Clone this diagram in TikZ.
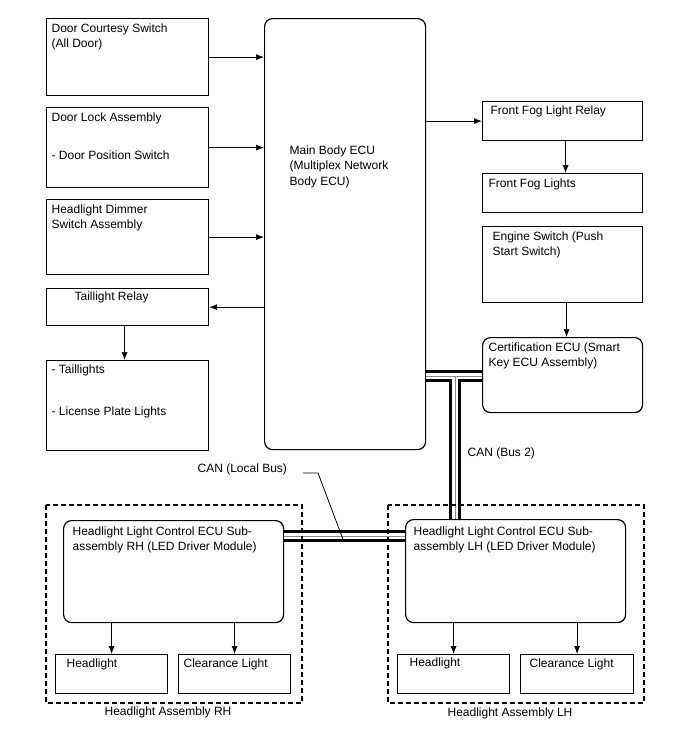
\documentclass[tikz,border=0pt]{standalone}
\usepackage{fontspec}
\setmainfont{Liberation Sans}
\usetikzlibrary{arrows.meta, calc}
\definecolor{cgrey}{HTML}{8A8A8A}
\tikzset{
  every picture/.style={line width=1.2pt},
  box/.style={draw, anchor=north west, inner sep=0pt},
  ecubox/.style={box, rounded corners=8pt},
  txt/.style={anchor=north west, align=left, inner sep=0pt, font=\fontsize{12}{15.5}\selectfont},
  arrow/.style={-{Latex[length=8pt, width=6pt]}, line width=0.7pt},
  zone/.style={draw, dashed, dash pattern=on 5pt off 3pt, line width=1.2pt},
}

\begin{document}
\begin{tikzpicture}[x=1pt, y=-1pt]
  \useasboundingbox (0,0) rectangle (688,755);
  % left column
  \node[box, minimum width=162, minimum height=77] (dcs) at (46,18) {};
  \node[box, minimum width=162, minimum height=80] (dla) at (46,107) {};
  \node[box, minimum width=162, minimum height=75] (hds) at (46,199) {};
  \node[box, minimum width=162, minimum height=37] (tlr) at (46,288) {};
  \node[box, minimum width=162, minimum height=90] (tl) at (46,360) {};
  \node[txt] (dcstxt) at ([shift={(5,5)}]dcs.north west) {Door Courtesy Switch\\(All Door)};
  \node[txt] (dlatxt) at ([shift={(5,5)}]dla.north west) {Door Lock Assembly};
  \node[txt] (dpstxt) at ([shift={(5,43)}]dla.north west) {- Door Position Switch};
  \node[txt] (hdstxt) at ([shift={(5,5)}]hds.north west) {Headlight Dimmer\\Switch Assembly};
  \node[txt] (tlrtxt) at ([shift={(28,3)}]tlr.north west) {Taillight Relay};
  \node[txt] (tltxt) at ([shift={(5,4)}]tl.north west) {- Taillights};
  \node[txt] (lpltxt) at ([shift={(5,46)}]tl.north west) {- License Plate Lights};
  % main body ecu
  \node[ecubox, minimum width=161, minimum height=431] (ecu) at (264,18) {};
  \node[txt] (ecutxt) at ([shift={(25,127)}]ecu.north west) {Main Body ECU\\(Multiplex Network\\Body ECU)};
  % right column
  \node[box, minimum width=160, minimum height=39] (ffr) at (482,101) {};
  \node[box, minimum width=160, minimum height=39] (ffl) at (482,173) {};
  \node[box, minimum width=160, minimum height=76] (es) at (482,226) {};
  \node[ecubox, minimum width=160, minimum height=75] (cert) at (482,337) {};
  \node[txt] (ffrtxt) at ([shift={(8,4)}]ffr.north west) {Front Fog Light Relay};
  \node[txt] (ffltxt) at ([shift={(6,5)}]ffl.north west) {Front Fog Lights};
  \node[txt] (estxt) at ([shift={(10,5)}]es.north west) {Engine Switch (Push\\Start Switch)};
  \node[txt] (certtxt) at ([shift={(6,5)}]cert.north west) {Certification ECU (Smart\\Key ECU Assembly)};
  % headlight assemblies
  \node[ecubox, minimum width=220, minimum height=102] (ecurh) at (63,520) {};
  \node[ecubox, minimum width=220, minimum height=103] (eculh) at (405,519) {};
  \node[txt] (ecurhtxt) at ([shift={(9,6)}]ecurh.north west) {Headlight Light Control ECU Sub-\\assembly RH (LED Driver Module)};
  \node[txt] (eculhtxt) at ([shift={(8,7)}]eculh.north west) {Headlight Light Control ECU Sub-\\assembly LH (LED Driver Module)};
  \node[box, minimum width=112, minimum height=39] (hlrh) at (55,654) {};
  \node[box, minimum width=112, minimum height=39] (clrh) at (178,654) {};
  \node[box, minimum width=112, minimum height=39] (hllh) at (397,654) {};
  \node[box, minimum width=113, minimum height=39] (cllh) at (520,654) {};
  \node[txt] (hlrhtxt) at ([shift={(11,4)}]hlrh.north west) {Headlight};
  \node[txt] (clrhtxt) at ([shift={(5,4)}]clrh.north west) {Clearance Light};
  \node[txt] (hllhtxt) at ([shift={(12,3)}]hllh.north west) {Headlight};
  \node[txt] (cllhtxt) at ([shift={(9,4)}]cllh.north west) {Clearance Light};
  % arrows
  \draw[arrow] (dcs.east) -- (dcs.east -| ecu.west);
  \draw[arrow] (dla.east) -- (dla.east -| ecu.west);
  \draw[arrow] (hds.east) -- (hds.east -| ecu.west);
  \draw[arrow] (tlr.east -| ecu.west) -- (tlr.east);
  \draw[arrow] ([xshift=-3pt]tlr.south) -- ([xshift=-3pt]tlr.south |- tl.north);
  \draw[arrow] (ffr.west -| ecu.east) -- (ffr.west);
  \draw[arrow] ([xshift=3pt]ffr.south) -- ([xshift=3pt]ffr.south |- ffl.north);
  \draw[arrow] ([xshift=4pt]es.south) -- ([xshift=4pt]es.south |- cert.north);
  \foreach \lamp in {hlrh, clrh, hllh, cllh}
    \draw[arrow] (\lamp.north |- ecurh.south) -- (\lamp.north);
  % CAN lines
  \coordinate (jn) at (455,376);
  \coordinate (lb) at (344,536);
  \foreach \w/\c in {12/black, 5.5/white, 1/cgrey} {
    \draw[line width=\w pt, \c] (ecu.east |- jn) -- (cert.west |- jn);
    \draw[line width=\w pt, \c] (jn) -- (jn |- eculh.north);
    \draw[line width=\w pt, \c] (ecurh.east |- lb) -- (eculh.west |- lb);
  }
  \node[txt] (canbus) at (467,447) {CAN (Bus 2)};
  \node[txt] (canlocal) at (197,463) {CAN (Local Bus)};
  \coordinate (ld) at (303,473);
  \draw[line width=0.8pt] (ld) -- ++(15,0) -- ([yshift=-6pt]lb);
  % dashed zones
  \draw[zone] (46,505) rectangle (302,703);
  \draw[zone] (388,505) rectangle (644,703);
  \node[txt, anchor=north] (zonerh) at (168,706) {Headlight Assembly RH};
  \node[txt, anchor=north] (zonelh) at (510,707) {Headlight Assembly LH};
\end{tikzpicture}
\end{document}
